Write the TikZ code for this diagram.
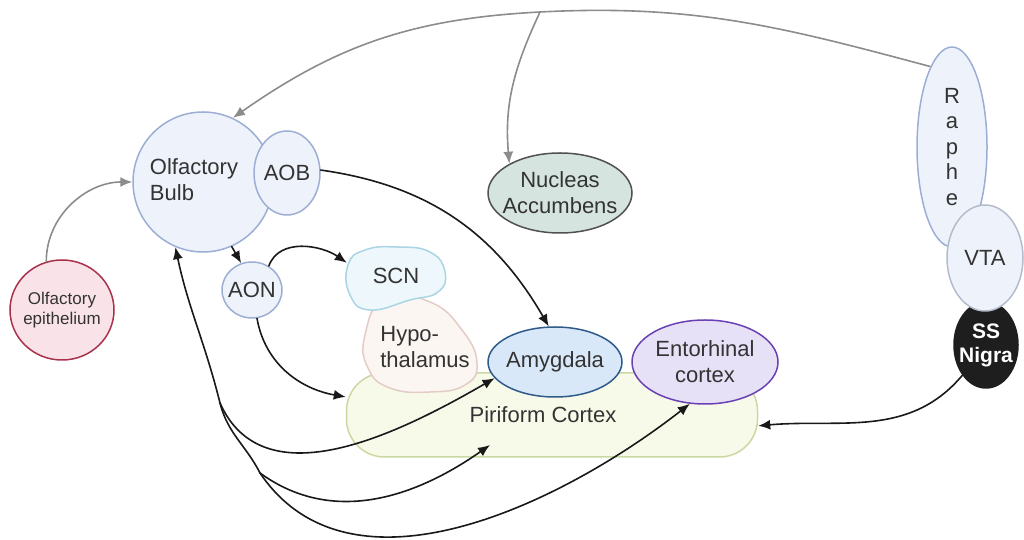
\documentclass[tikz,border=0pt]{standalone}
\usepackage{fontspec}
\setmainfont{Liberation Sans}
\usetikzlibrary{positioning, arrows.meta, shapes.geometric}

\definecolor{txtgray}{HTML}{333333}
\definecolor{bulbfill}{HTML}{EEF2FB}
\definecolor{bulbline}{HTML}{9DAED4}
\definecolor{epifill}{HTML}{F9E3E8}
\definecolor{epiline}{HTML}{A8324C}
\definecolor{scnfill}{HTML}{EEF7FB}
\definecolor{scnline}{HTML}{A9D5E5}
\definecolor{hypofill}{HTML}{FBF6F2}
\definecolor{hypoline}{HTML}{E3CCC6}
\definecolor{amyfill}{HTML}{D9E8F8}
\definecolor{amyline}{HTML}{2F5B8C}
\definecolor{entofill}{HTML}{E6E1F6}
\definecolor{entoline}{HTML}{6A41B4}
\definecolor{pirifill}{HTML}{F8FAE9}
\definecolor{piriline}{HTML}{CAD9A3}
\definecolor{naccfill}{HTML}{D6E4E0}
\definecolor{naccline}{HTML}{505050}
\definecolor{vtaline}{HTML}{B4BCCB}
\definecolor{nigrafill}{HTML}{1E1E1E}
\definecolor{feedgray}{HTML}{8C8C8C}

\begin{document}
\begin{tikzpicture}[
    x=1pt, y=1pt,
    >={Latex[length=12pt, width=10pt]},
    font=\fontsize{22}{26}\selectfont,
    area/.style={
        ellipse, draw, line width=1.5pt, inner ysep=0pt, inner xsep=-12pt,
        align=center, text=txtgray,
    },
    blob/.style={line width=1.5pt},
    txt/.style={text=txtgray, align=left, inner sep=0pt},
    link/.style={->, line width=1.6pt, draw=black!90, line cap=round},
    feed/.style={->, line width=1.6pt, draw=feedgray},
]

\useasboundingbox (0,0) rectangle (1024,540);

% regions
\node[draw=piriline, fill=pirifill, line width=1.5pt, rounded corners=38pt,
      minimum width=411pt, minimum height=84pt] (piri) at (552,125) {};
\node[txt] (piritxt) at (543,125) {Piriform Cortex};

\draw[blob, draw=hypoline, fill=hypofill] plot[smooth cycle, tension=0.8] coordinates {
    (385,242) (430,238) (462,210) (477,177) (465,155)
    (430,148) (390,152) (368,172) (365,205)};
\node[txt] (hypo) at (425,193) {Hypo-\\thalamus};

\draw[blob, draw=scnline, fill=scnfill] plot[smooth cycle, tension=0.8] coordinates {
    (397,293) (430,288) (445,268) (438,248) (410,240)
    (370,230) (350,245) (348,275) (365,290)};
\node[txt, align=center, minimum width=98pt, minimum height=60pt] (scn) at (396,264) {SCN};

\node[area, draw=amyline, fill=amyfill, minimum width=134pt, minimum height=70pt] (amyg) at (555,178) {Amygdala};
\node[area, draw=entoline, fill=entofill, minimum width=146pt, minimum height=84pt] (ento) at (705,178) {Entorhinal\\cortex};
\node[area, draw=naccline, fill=naccfill, minimum width=144pt, minimum height=80pt] (nacc) at (560,347) {Nucleas\\Accumbens};

\node[area, draw=bulbline, fill=bulbfill, minimum size=140pt] (bulb) at (203,358) {};
\node[txt] (bulbtxt) at (194,360) {Olfactory\\Bulb};
\node[area, draw=bulbline, fill=bulbfill, minimum width=66pt, minimum height=84pt] (aob) at (287,367) {AOB};
\node[area, draw=bulbline, fill=bulbfill, minimum width=60pt, minimum height=56pt] (aon) at (252,250) {AON};
\node[area, draw=epiline, fill=epifill, minimum width=104pt, minimum height=100pt,
      font=\fontsize{17}{20}\selectfont] (epi) at (62,230) {Olfactory\\epithelium};

\node[area, draw=bulbline, fill=bulbfill, minimum width=70pt, minimum height=200pt,
      font=\fontsize{22}{25.5}\selectfont] (raphe) at (952,393) {R\\a\\p\\h\\e};
\node[area, draw=nigrafill, fill=nigrafill, text=white, minimum width=64pt, minimum height=86pt,
      font=\fontsize{21}{24}\selectfont\bfseries] (nigra) at (986,195) {SS\\Nigra};
\node[area, draw=vtaline, fill=bulbfill, minimum width=76pt, minimum height=106pt] (vta) at (985,282) {VTA};

% connectors
\coordinate (fork) at (540,528);
\coordinate (obsplit) at (220,137);
\coordinate (pcsplit) at (260,67);
\coordinate (piriin) at (490,95);

\draw[feed] (epi.108) to[out=90, in=180] (bulb.west);
\draw[feed] (raphe.105) to[out=165, in=3] (fork) to[out=183, in=35] (bulb.65);
\draw[feed] (fork) to[out=-115, in=95] (nacc.150);

\draw[link] (aob.5) to[out=-8, in=120] (amyg.100);
\draw[link] (bulb.-66) -- (aon.112);
\draw[link] (aon.55) to[out=70, in=145] (scn.165);
\draw[link] (aon.-80) to[out=-80, in=170] (piri.175);
\draw[link] (nigra.232) to[out=-130, in=5] (piri.-3);

\draw[link, <-] (bulb.247) to[out=-78, in=104] (obsplit);
\draw[link, -] (obsplit) to[out=-76, in=117] (pcsplit);
\draw[link] (obsplit) to[out=-66, in=210] (amyg.195);
\draw[link] (pcsplit) to[out=-36, in=215] (piriin);
\draw[link] (pcsplit) to[out=-56, in=218, looseness=0.95] (ento.250);

\end{tikzpicture}
\end{document}
